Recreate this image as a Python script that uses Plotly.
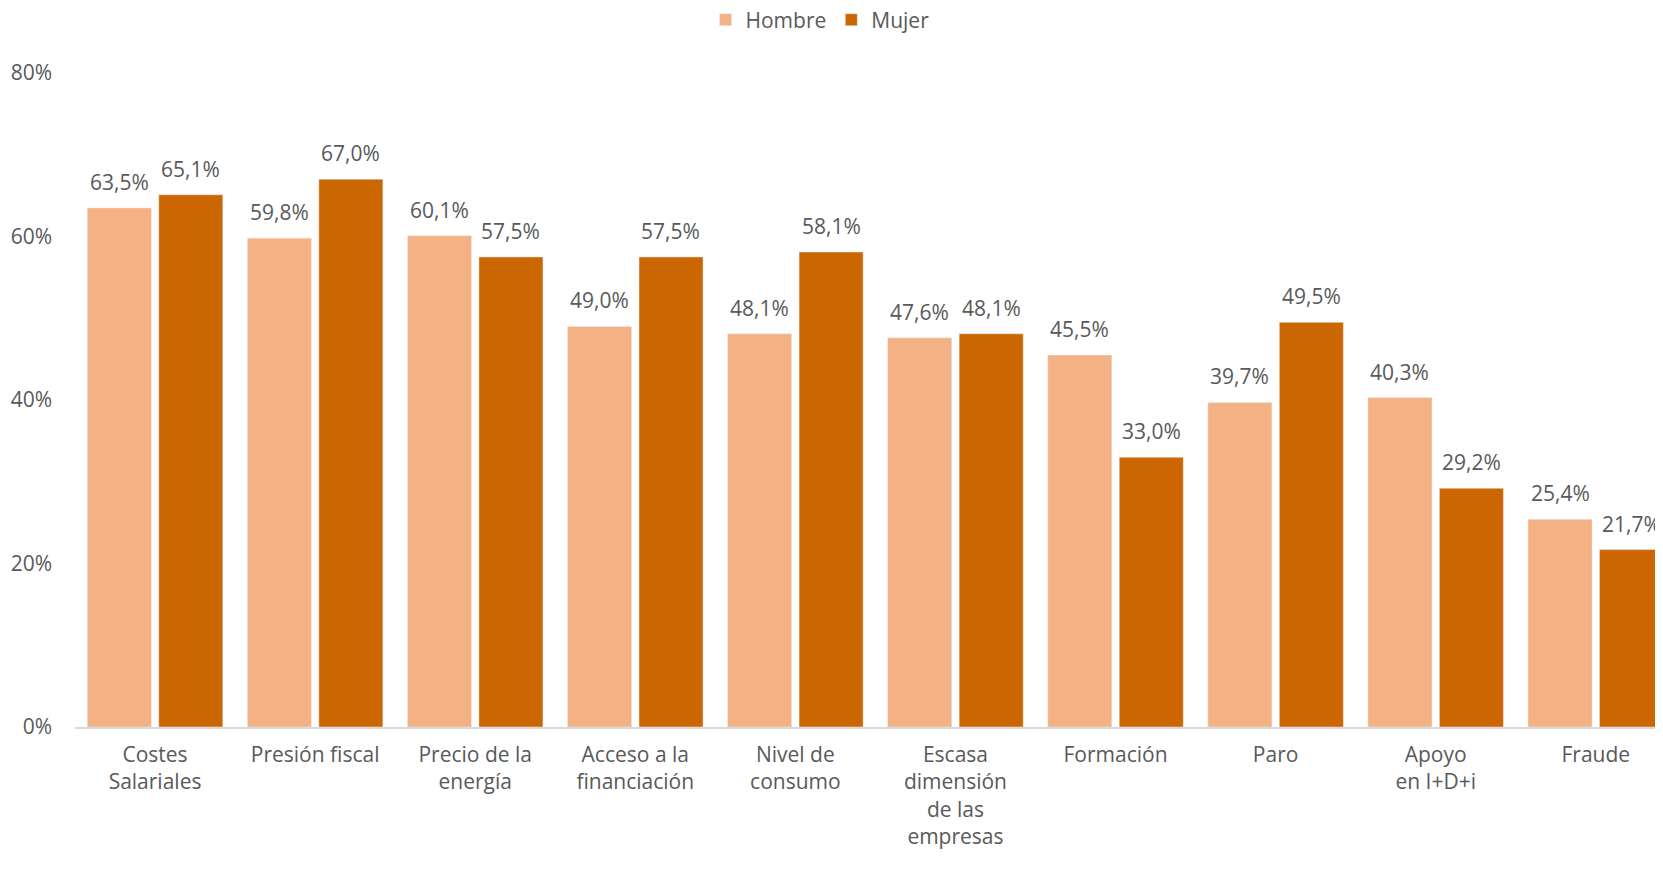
import plotly.graph_objects as go

categories = ["Costes<br>Salariales", "Presión fiscal", "Precio de la<br>energía",
              "Acceso a la<br>financiación", "Nivel de<br>consumo",
              "Escasa<br>dimensión<br>de las<br>empresas", "Formación", "Paro",
              "Apoyo<br>en I+D+i", "Fraude"]
hombre = [63.5, 59.8, 60.1, 49.0, 48.1, 47.6, 45.5, 39.7, 40.3, 25.4]
mujer = [65.1, 67.0, 57.5, 57.5, 58.1, 48.1, 33.0, 49.5, 29.2, 21.7]
y_ticks = [0, 20, 40, 60, 80]
y_tick_text = ["0%", "20%", "40%", "60%", "80%"]

C_H = "#F4B183"
C_M = "#CC6600"
TXT = "#595959"
FONT = "Open Sans"
FS = 21

fig = go.Figure()
fig.add_trace(go.Bar(name="Hombre", x=categories, y=hombre, marker_color=C_H))
fig.add_trace(go.Bar(name="Mujer", x=categories, y=mujer, marker_color=C_M))

# value labels above bars
half_slot = 35.7  # px offset of each bar from category center
annotations = []
for vals, sh in ((hombre, -half_slot), (mujer, half_slot)):
    for c, v in zip(categories, vals):
        annotations.append(dict(x=c, y=v, xref="x", yref="y", text=f"{v:.1f}%".replace(".", ","),
                                showarrow=False, xshift=sh, yshift=26, yanchor="middle",
                                font=dict(size=FS, color=TXT)))

W, H = 1655, 854  # page body has an 8px margin
fig.update_layout(
    width=W, height=H,
    margin=dict(l=67, r=0, t=65, b=135, autoexpand=False),
    plot_bgcolor="white", paper_bgcolor="white",
    barmode="group", bargap=0.107, bargroupgap=0.104,
    font=dict(family=FONT, size=FS, color=TXT),
    legend=dict(orientation="h", xref="container", x=812 / W, xanchor="center",
                yref="container", y=1 - 12 / H, yanchor="middle",
                font=dict(size=FS, color=TXT), traceorder="normal"),
    annotations=annotations,
)
fig.update_xaxes(range=[-0.5, 9.42], showline=True, linecolor="#D9D9D9", linewidth=1.5,
                 ticks="", tickfont=dict(size=FS, color=TXT), tickangle=0,
                 ticklabelstandoff=8, automargin=False)
fig.update_yaxes(range=[0, 80], tickvals=y_ticks, ticktext=y_tick_text, showgrid=False,
                 zeroline=False, showline=False, ticks="",
                 tickfont=dict(size=FS, color=TXT), ticklabelstandoff=22, automargin=False)

fig.write_html("out.html")
